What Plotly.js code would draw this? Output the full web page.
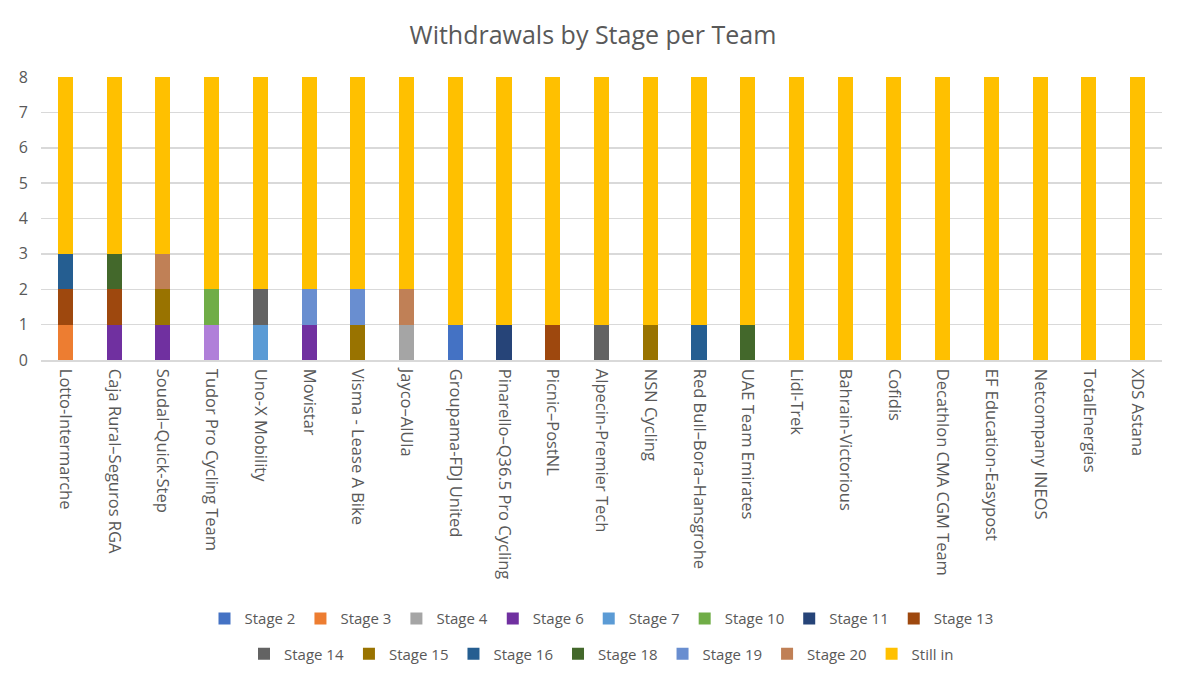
<!DOCTYPE html>
<html><head><meta charset="utf-8">
<script src="https://cdn.plot.ly/plotly-3.0.1.min.js"></script>
<style>body{margin:0;background:#fff}#c{width:1186px;height:681px}</style>
</head><body><div id="c"></div>
<script>
const teams = ["Lotto-Intermarche","Caja Rural–Seguros RGA","Soudal–Quick-Step","Tudor Pro Cycling Team","Uno-X Mobility","Movistar","Visma - Lease A Bike","Jayco–AlUla","Groupama-FDJ United","Pinarello–Q36.5 Pro Cycling","Picnic–PostNL","Alpecin-Premier Tech","NSN Cycling","Red Bull–Bora–Hansgrohe","UAE Team Emirates","Lidl-Trek","Bahrain-Victorious","Cofidis","Decathlon CMA CGM Team","EF Education-Easypost","Netcompany INEOS","TotalEnergies","XDS Astana"];
const stage2  = [0,0,0,0,0,0,0,0,1,0,0,0,0,0,0,0,0,0,0,0,0,0,0];
const stage3  = [1,0,0,0,0,0,0,0,0,0,0,0,0,0,0,0,0,0,0,0,0,0,0];
const stage4  = [0,0,0,0,0,0,0,1,0,0,0,0,0,0,0,0,0,0,0,0,0,0,0];
const stage6  = [0,1,1,1,0,1,0,0,0,0,0,0,0,0,0,0,0,0,0,0,0,0,0];
const stage7  = [0,0,0,0,1,0,0,0,0,0,0,0,0,0,0,0,0,0,0,0,0,0,0];
const stage10 = [0,0,0,1,0,0,0,0,0,0,0,0,0,0,0,0,0,0,0,0,0,0,0];
const stage11 = [0,0,0,0,0,0,0,0,0,1,0,0,0,0,0,0,0,0,0,0,0,0,0];
const stage13 = [1,1,0,0,0,0,0,0,0,0,1,0,0,0,0,0,0,0,0,0,0,0,0];
const stage14 = [0,0,0,0,1,0,0,0,0,0,0,1,0,0,0,0,0,0,0,0,0,0,0];
const stage15 = [0,0,1,0,0,0,1,0,0,0,0,0,1,0,0,0,0,0,0,0,0,0,0];
const stage16 = [1,0,0,0,0,0,0,0,0,0,0,0,0,1,0,0,0,0,0,0,0,0,0];
const stage18 = [0,1,0,0,0,0,0,0,0,0,0,0,0,0,1,0,0,0,0,0,0,0,0];
const stage19 = [0,0,0,0,0,1,1,0,0,0,0,0,0,0,0,0,0,0,0,0,0,0,0];
const stage20 = [0,0,1,0,0,0,0,1,0,0,0,0,0,0,0,0,0,0,0,0,0,0,0];
const stillIn = [5,5,5,6,6,6,6,6,7,7,7,7,7,7,7,8,8,8,8,8,8,8,8];

const seriesNames = ["Stage 2","Stage 3","Stage 4","Stage 6","Stage 7","Stage 10","Stage 11","Stage 13","Stage 14","Stage 15","Stage 16","Stage 18","Stage 19","Stage 20","Still in"];
const seriesVals = [stage2,stage3,stage4,stage6,stage7,stage10,stage11,stage13,stage14,stage15,stage16,stage18,stage19,stage20,stillIn];
const colors = ["#4472C4","#ED7D31","#A5A5A5","#7030A0","#5B9BD5","#70AD47","#264478","#9E480E","#636363","#997300","#255E91","#43682B","#698ED0","#C08056","#FFC000"];

const FONT = "Open Sans, Liberation Sans, Arial, sans-serif";
const traces = seriesNames.map((n,i)=>{
  let col = colors[i];
  if (n === "Stage 6") col = teams.map(t => t === "Tudor Pro Cycling Team" ? "#B07FD9" : colors[i]);
  return {type:"bar", name:n, x:teams, y:seriesVals[i], marker:{color:col, line:{width:0}},
    legend: i < 8 ? "legend" : "legend2", hoverinfo:"x+y+name"};
});

const legendCommon = {orientation:"h", xanchor:"center", x:0.5, yanchor:"middle",
  font:{family:FONT, size:15, color:"#595959"},
  itemwidth:30, tracegroupgap:0, bgcolor:"rgba(0,0,0,0)", traceorder:"normal"};

const layout = {
  width:1186, height:681,
  margin:{l:41, r:24, t:77, b:320},
  paper_bgcolor:"#fff", plot_bgcolor:"#fff",
  title:{text:"Withdrawals by Stage per Team", x:0.5, xanchor:"center", y:0.948, yanchor:"middle",
    font:{family:FONT, size:25, color:"#595959"}},
  barmode:"stack", bargap:0.69,
  font:{family:FONT, color:"#595959"},
  xaxis:{tickangle:90, tickfont:{size:16.5, color:"#595959"}, showline:true, linecolor:"#D9D9D9", linewidth:1.5, ticks:"", automargin:false, ticklabelstandoff:4},
  yaxis:{range:[0,8], dtick:1, tickfont:{size:16, color:"#595959"}, gridcolor:"#D9D9D9", gridwidth:1.5, zeroline:false, ticks:"", automargin:false, ticklabelstandoff:12},
  legend:Object.assign({}, legendCommon, {y:-0.908}),
  legend2:Object.assign({}, legendCommon, {y:-1.032}),
  showlegend:true
};
Plotly.newPlot("c", traces, layout, {displayModeBar:false, staticPlot:true});
</script></body></html>
